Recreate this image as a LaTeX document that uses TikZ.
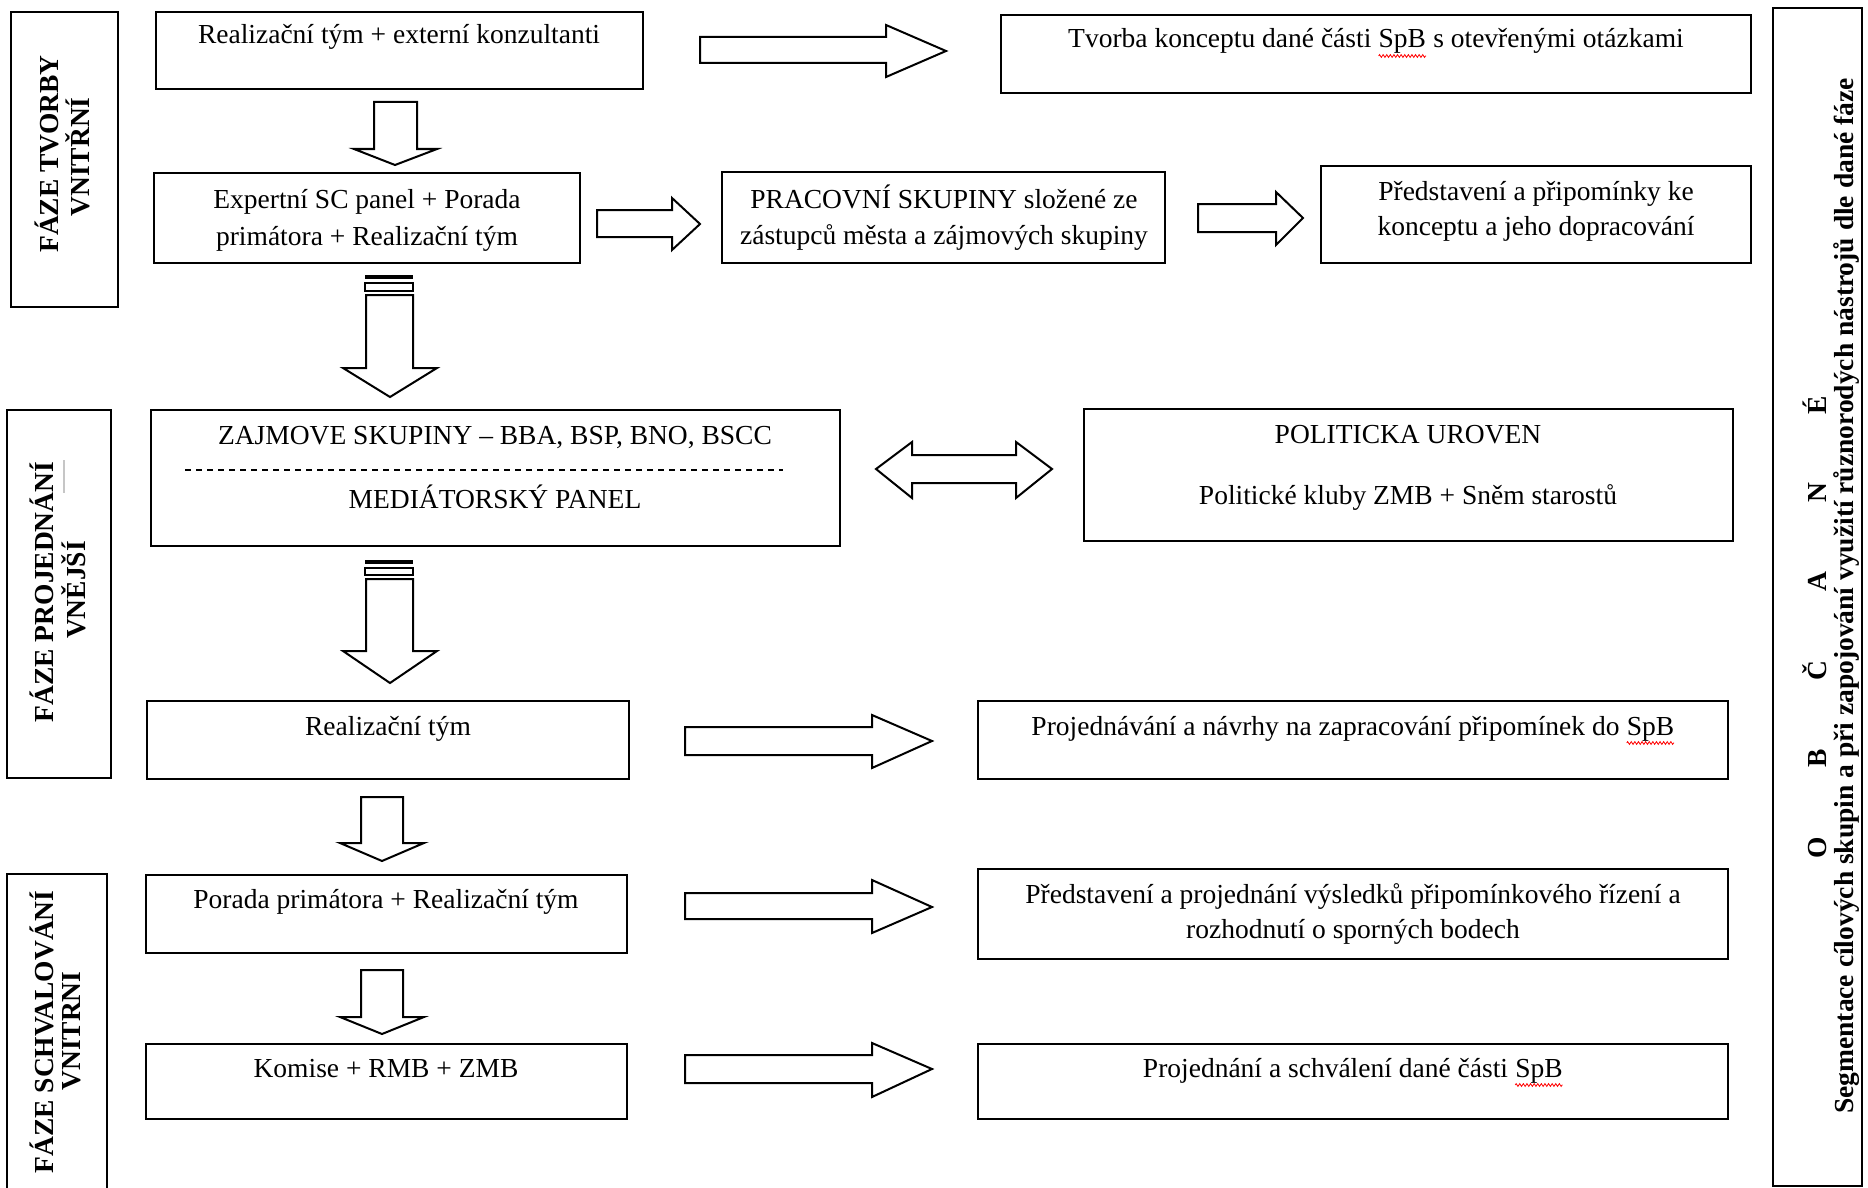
\documentclass[tikz,border=0pt]{standalone}
\usepackage{fontspec}
\setmainfont{Liberation Serif}
\usetikzlibrary{fit,decorations.pathmorphing}
\newcommand\redwave[1]{\tikz[baseline=(w.base)]{\node[inner sep=0pt, outer sep=0pt] (w) {#1};
  \draw[red, line width=0.4pt, decorate, decoration={zigzag, amplitude=0.7pt, segment length=1.8pt}]
    ([yshift=-4pt]w.base west) -- ([yshift=-4pt]w.base east);}}
\tikzset{
  box/.style={draw, line width=1pt, inner sep=0pt, fill=white},
  txt/.style={font=\fontsize{13.75}{16}\selectfont, inner sep=0pt, anchor=base},
  vtxt/.style={font=\bfseries\fontsize{13.75}{16}\selectfont, inner sep=0pt, rotate=90},
  barrow/.style={draw, line width=1pt, fill=white, line join=miter},
  bar/.style={draw, line width=0.8pt, fill=white},
  sepline/.style={dashed, dash pattern=on 3pt off 2.5pt, line width=0.6pt},
}
\begin{document}
\begin{tikzpicture}[x=0.5pt, y=-0.5pt]
\fill[white] (0,0) rectangle (1868,1188);
\useasboundingbox (0,0) rectangle (1868,1188);

% phase boxes
\node[box, fit={(11,12) (118,307)}] (p1) {};
\node[box, fit={(7,410) (111,778)}] (p2) {};
\node[box, fit={(7,874) (107,1200)}] (p3) {};
\node[box, fit={(1773,8) (1862,1186)}] (obc) {};

\node[vtxt] (p1a) at (47,154) {FÁZE TVORBY};
\node[vtxt] (p1b) at (78,157) {VNITŘNÍ};
\node[vtxt] (p2a) at (42,592) {FÁZE PROJEDNÁNÍ};
\node[vtxt] (p2b) at (74,590) {VNĚJŠÍ};
\draw[gray!45, line width=0.8pt] (64,460) -- (64,493);
\node[vtxt] (p3a) at (42,1032) {FÁZE SCHVALOVÁNÍ};
\node[vtxt] (p3b) at (72,1031) {VNITRNI};
\node[vtxt] (obc1) at (1815,627) {O\hspace{34.5pt}B\hspace{34.5pt}Č\hspace{34.5pt}A\hspace{34.5pt}N\hspace{34.5pt}É};
\node[vtxt] (obc2) at (1847,596) {Segmentace cílových skupin a při zapojování využití různorodých nástrojů dle dané fáze};

% content boxes
\node[box, fit={(156,12) (643,89)}] (b1) {};
\node[box, fit={(1001,15) (1751,93)}] (b2) {};
\node[box, fit={(154,173) (580,263)}] (b3) {};
\node[box, fit={(722,172) (1165,263)}] (b4) {};
\node[box, fit={(1321,166) (1751,263)}] (b5) {};
\node[box, fit={(151,410) (840,546)}] (b6) {};
\node[box, fit={(1084,409) (1733,541)}] (b7) {};
\node[box, fit={(147,701) (629,779)}] (b8) {};
\node[box, fit={(978,701) (1728,779)}] (b9) {};
\node[box, fit={(146,875) (627,953)}] (b10) {};
\node[box, fit={(978,869) (1728,959)}] (b11) {};
\node[box, fit={(146,1044) (627,1119)}] (b12) {};
\node[box, fit={(978,1044) (1728,1119)}] (b13) {};

% texts
\node[txt] (t1) at (399,44) {Realizační tým + externí konzultanti};
\node[txt] (t2) at (1376,48) {Tvorba konceptu dané části \redwave{SpB} s otevřenými otázkami};
\node[txt] (t3a) at (367,208) {Expertní SC panel + Porada};
\node[txt] (t3b) at (367,245) {primátora + Realizační tým};
\node[txt] (t4a) at (944,208) {PRACOVNÍ SKUPINY složené ze};
\node[txt] (t4b) at (944,244) {zástupců města a zájmových skupiny};
\node[txt] (t5a) at (1536,200) {Představení a připomínky ke};
\node[txt] (t5b) at (1536,235) {konceptu a jeho dopracování};
\node[txt] (t6a) at (495,444) {ZAJMOVE SKUPINY – BBA, BSP, BNO, BSCC};
\node[txt] (t6b) at (495,508) {MEDIÁTORSKÝ PANEL};
\node[txt] (t7a) at (1408,443) {POLITICKA UROVEN};
\node[txt] (t7b) at (1408,504) {Politické kluby ZMB + Sněm starostů};
\node[txt] (t8) at (388,735) {Realizační tým};
\node[txt] (t9) at (1353,735) {Projednávání a návrhy na zapracování připomínek do \redwave{SpB}};
\node[txt] (t10) at (386,908) {Porada primátora + Realizační tým};
\node[txt] (t11a) at (1353,903) {Představení a projednání výsledků připomínkového řízení a};
\node[txt] (t11b) at (1353,938) {rozhodnutí o sporných bodech};
\node[txt] (t12) at (386,1077) {Komise + RMB + ZMB};
\node[txt] (t13) at (1353,1077) {Projednání a schválení dané části \redwave{SpB}};

% dashed separator
\draw[sepline] (185,470) -- (783,470);

% right block arrows
\draw[barrow] (700,37) -- (886,37) -- (886,25) -- (946,51) -- (886,77) -- (886,63) -- (700,63) -- cycle;
\draw[barrow] (597,210) -- (672,210) -- (672,198) -- (700,224) -- (672,250) -- (672,237) -- (597,237) -- cycle;
\draw[barrow] (1198,204) -- (1276,204) -- (1276,192) -- (1303,218) -- (1276,245) -- (1276,232) -- (1198,232) -- cycle;
\draw[barrow] (685,727) -- (872,727) -- (872,715) -- (932,741) -- (872,768) -- (872,755) -- (685,755) -- cycle;
\draw[barrow] (685,893) -- (872,893) -- (872,880) -- (932,907) -- (872,933) -- (872,919) -- (685,919) -- cycle;
\draw[barrow] (685,1055) -- (872,1055) -- (872,1043) -- (932,1069) -- (872,1097) -- (872,1083) -- (685,1083) -- cycle;

% double arrow
\draw[barrow] (876,469) -- (912,442) -- (912,455) -- (1016,455) -- (1016,442) -- (1052,469) -- (1016,498) -- (1016,483) -- (912,483) -- (912,498) -- cycle;

% down block arrows
\draw[barrow] (374,102) -- (417,102) -- (417,149) -- (437,149) -- (395,165) -- (354,149) -- (374,149) -- cycle;

\fill (365,275) rectangle (413,279);
\draw[bar] (365,283) rectangle (413,291);
\draw[barrow] (366,295) -- (413,295) -- (413,368) -- (437,368) -- (390,397) -- (343,368) -- (366,368) -- cycle;

\fill (365,560) rectangle (413,564);
\draw[bar] (365,568) rectangle (413,575);
\draw[barrow] (366,579) -- (413,579) -- (413,651) -- (437,651) -- (390,683) -- (343,651) -- (366,651) -- cycle;

\draw[barrow] (361,797) -- (403,797) -- (403,843) -- (424,843) -- (382,861) -- (340,843) -- (361,843) -- cycle;
\draw[barrow] (361,970) -- (403,970) -- (403,1017) -- (424,1017) -- (382,1034) -- (340,1017) -- (361,1017) -- cycle;
\end{tikzpicture}
\end{document}
